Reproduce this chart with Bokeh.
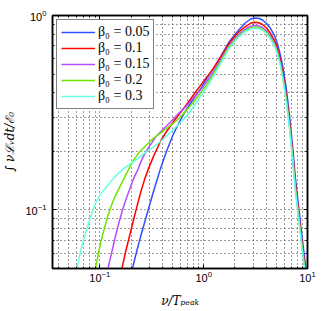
from bokeh.plotting import figure
from bokeh.models import Range1d, FixedTicker, LinearAxis, Legend, LegendItem, CustomJSTickFormatter
from bokeh.embed import file_html
from bokeh.resources import INLINE

# ---- axis ticks ----
x_major = [0.1, 1, 10]
x_minor = [0.04, 0.05, 0.06, 0.07, 0.08, 0.09,
           0.2, 0.3, 0.4, 0.5, 0.6, 0.7, 0.8, 0.9,
           2, 3, 4, 5, 6, 7, 8, 9]
y_major = [0.1, 1]
y_minor = [0.05, 0.06, 0.07, 0.08, 0.09,
           0.2, 0.3, 0.4, 0.5, 0.6, 0.7, 0.8, 0.9]

labels = ["β₀ = 0.05", "β₀ = 0.1", "β₀ = 0.15", "β₀ = 0.2", "β₀ = 0.3"]
colors = ["#3050ff", "#ff0000", "#b44dff", "#6ee600", "#66ffe0"]

# ---- shared frequency grid (upper part of every curve) ----
nu_common = [0.386, 0.441, 0.503, 0.575, 0.671, 0.801, 0.936, 1.069, 1.220,
             1.457, 1.740, 2.076, 2.479, 2.831, 3.093, 3.380, 3.693, 4.035,
             4.409, 4.817, 5.146, 5.500, 5.877, 6.283, 6.713, 7.174, 7.665,
             8.195, 8.757, 9.359, 9.781]

# ---- beta0 = 0.05 ----
nu_low_005 = [0.2053, 0.2269, 0.2478, 0.2708, 0.2959, 0.3233, 0.3455]
L_low_005 = [0.0497, 0.0615, 0.0734, 0.0867, 0.1024, 0.1209, 0.1361]
L_005 = [0.1646, 0.2014, 0.2407, 0.2792, 0.3238, 0.3734, 0.4204, 0.4735,
         0.5268, 0.6148, 0.7259, 0.8176, 0.9095, 0.9593, 0.9719, 0.9673,
         0.9480, 0.9095, 0.8570, 0.7887, 0.7129, 0.6221, 0.5205, 0.4106,
         0.3051, 0.2138, 0.1445, 0.1049, 0.0770, 0.0572, 0.0473]

# ---- beta0 = 0.1 ----
nu_low_010 = [0.1627, 0.1778, 0.1986, 0.2219, 0.2478, 0.2708, 0.2959, 0.3305]
L_low_010 = [0.0497, 0.0615, 0.0779, 0.0988, 0.1238, 0.1445, 0.1646, 0.1898]
L_010 = [0.2269, 0.2539, 0.2809, 0.3088, 0.3436, 0.3915, 0.4384, 0.4820,
         0.5268, 0.6111, 0.7129, 0.8028, 0.8723, 0.9116, 0.9225, 0.9180,
         0.8987, 0.8621, 0.8078, 0.7431, 0.6761, 0.5861, 0.4849, 0.3825,
         0.2842, 0.1991, 0.1345, 0.0977, 0.0717, 0.0533, 0.0436]

# ---- beta0 = 0.15 ----
nu_low_015 = [0.1194, 0.1276, 0.1394, 0.1523, 0.1664, 0.1818, 0.1943, 0.2123,
              0.2319, 0.2534, 0.2768, 0.3162, 0.3455]
L_low_015 = [0.0497, 0.0579, 0.0709, 0.0857, 0.1012, 0.1167, 0.1283, 0.1462,
             0.1608, 0.1810, 0.1991, 0.2215, 0.2379]
L_015 = [0.2524, 0.2710, 0.2910, 0.3143, 0.3395, 0.3778, 0.4155, 0.4569,
         0.5054, 0.5933, 0.6922, 0.7795, 0.8470, 0.8797, 0.8882, 0.8850,
         0.8672, 0.8320, 0.7795, 0.7172, 0.6523, 0.5658, 0.4678, 0.3690,
         0.2742, 0.1921, 0.1298, 0.0954, 0.0700, 0.0521, 0.0426]

# ---- beta0 = 0.2 ----
nu_low_020 = [0.0905, 0.0957, 0.1022, 0.1093, 0.1194, 0.1305, 0.1425, 0.1557,
              0.1701, 0.1901, 0.2123, 0.2371, 0.2768, 0.3233, 0.3532]
L_low_020 = [0.0497, 0.0579, 0.0684, 0.0788, 0.0931, 0.1074, 0.1195, 0.1314,
             0.1445, 0.1627, 0.1810, 0.1967, 0.2138, 0.2323, 0.2407]
L_020 = [0.2494, 0.2631, 0.2775, 0.2945, 0.3219, 0.3604, 0.4010, 0.4408,
         0.4935, 0.5793, 0.6841, 0.7656, 0.8320, 0.8621, 0.8703, 0.8672,
         0.8502, 0.8176, 0.7656, 0.7046, 0.6409, 0.5557, 0.4569, 0.3604,
         0.2678, 0.1876, 0.1268, 0.0931, 0.0684, 0.0508, 0.0416]

# ---- beta0 = 0.3 ----
nu_low_030 = [0.0601, 0.0628, 0.0657, 0.0702, 0.0750, 0.0819, 0.0895, 0.0978,
              0.1093, 0.1221, 0.1364, 0.1523, 0.1739, 0.2031, 0.2371, 0.2708,
              0.3093, 0.3455]
L_low_030 = [0.0497, 0.0559, 0.0622, 0.0709, 0.0798, 0.0931, 0.1061, 0.1167,
             0.1268, 0.1361, 0.1462, 0.1551, 0.1646, 0.1747, 0.1853, 0.1967,
             0.2062, 0.2150]
L_030 = [0.2255, 0.2407, 0.2569, 0.2759, 0.2998, 0.3395, 0.3847, 0.4255,
         0.4791, 0.5658, 0.6720, 0.7567, 0.8222, 0.8520, 0.8601, 0.8570,
         0.8399, 0.8078, 0.7567, 0.6964, 0.6332, 0.5492, 0.4488, 0.3519,
         0.2616, 0.1832, 0.1238, 0.0909, 0.0668, 0.0497, 0.0406]

series = [
    (nu_low_005 + nu_common, L_low_005 + L_005),
    (nu_low_010 + nu_common, L_low_010 + L_010),
    (nu_low_015 + nu_common, L_low_015 + L_015),
    (nu_low_020 + nu_common, L_low_020 + L_020),
    (nu_low_030 + nu_common, L_low_030 + L_030),
]

p = figure(width=321, height=311, x_axis_type="log", y_axis_type="log",
           x_range=Range1d(0.035, 10), y_range=Range1d(0.05, 1),
           output_backend="svg", toolbar_location=None,
           min_border_left=52, min_border_right=14, min_border_top=15,
           min_border_bottom=43)
p.background_fill_color = "white"
p.border_fill_color = "white"
p.outline_line_color = "black"
p.outline_line_width = 1.5

xt = FixedTicker(ticks=x_major, minor_ticks=x_minor)
yt = FixedTicker(ticks=y_major, minor_ticks=y_minor)
p.xaxis.ticker = xt
p.yaxis.ticker = yt
p.xgrid.ticker = xt
p.ygrid.ticker = yt

for g in (p.xgrid, p.ygrid):
    g.grid_line_color = "#222222"
    g.grid_line_dash = "1 3"
    g.grid_line_width = 1
    g.grid_line_alpha = 0.9
    g.minor_grid_line_color = "#222222"
    g.minor_grid_line_dash = "1 3"
    g.minor_grid_line_width = 1
    g.minor_grid_line_alpha = 0.9

for ax in (p.xaxis, p.yaxis):
    ax.major_tick_in = 4
    ax.major_tick_out = 0
    ax.minor_tick_in = 2
    ax.minor_tick_out = 0
    ax.axis_line_width = 1.5
    ax.axis_line_color = "black"
    ax.major_tick_line_color = "black"
    ax.minor_tick_line_color = "black"
    ax.major_label_text_font = "Liberation Sans"
    ax.major_label_text_font_size = "11px"
    ax.major_label_text_color = "black"
    ax.axis_label_text_font = "DejaVu Serif"
    ax.axis_label_text_font_style = "italic"
    ax.axis_label_text_font_size = "12px"
    ax.axis_label_text_color = "black"

p.xaxis.major_label_standoff = 2
p.xaxis.axis_label_standoff = 9
p.yaxis.major_label_standoff = 6
p.yaxis.axis_label_standoff = 5
p.xaxis.axis_label = "ν/Tₚₑₐₖ"
p.yaxis.axis_label = "∫ νℒᵥdt/ℰ₀"

# box ticks on top and right (no labels)
blank = CustomJSTickFormatter(code="return ''")
for side, tk in (("right", yt), ("above", xt)):
    a = LinearAxis(ticker=tk, formatter=blank, major_label_text_font_size="2px",
                   major_label_standoff=0, major_tick_in=4, major_tick_out=0,
                   minor_tick_in=2, minor_tick_out=0, axis_line_width=1.5)
    p.add_layout(a, side)

items = []
for (xs, ys), c, lab in zip(series, colors, labels):
    r = p.line(xs, ys, line_color=c, line_width=1.5)
    items.append(LegendItem(label=lab, renderers=[r]))

legend = Legend(items=items, location="top_left")
legend.margin = 4
legend.padding = 4
legend.spacing = 0
legend.glyph_width = 34
legend.glyph_height = 14
legend.label_height = 14
legend.label_standoff = 3
legend.label_text_font = "Liberation Serif"
legend.label_text_font_size = "14px"
legend.label_text_line_height = 1.0
legend.label_text_color = "black"
legend.border_line_color = "black"
legend.border_line_width = 1.5
legend.background_fill_color = "white"
legend.background_fill_alpha = 1
p.add_layout(legend)

open("out.html", "w").write(file_html(p, INLINE))
